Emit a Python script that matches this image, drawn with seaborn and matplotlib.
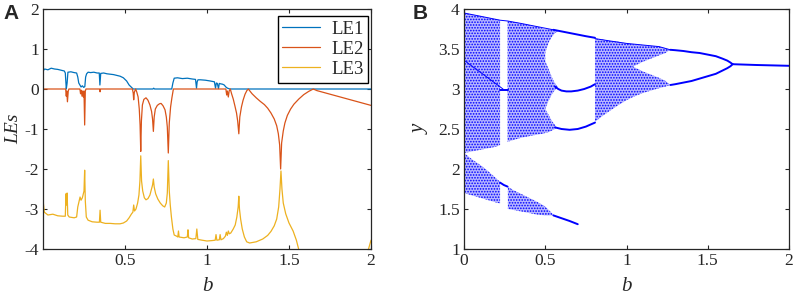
import numpy as np
import matplotlib
matplotlib.use("Agg")
import matplotlib.pyplot as plt
import seaborn as sns

# Lyapunov exponents, pairs of (b, value)
le1 = np.array([
    (0.0, 0.45), (0.01, 0.50), (0.03, 0.48), (0.05, 0.52), (0.07, 0.50), (0.09, 0.49),
    (0.11, 0.47), (0.13, 0.45), (0.136, 0.40), (0.142, 0.0), (0.147, 0.15), (0.152, 0.42),
    (0.17, 0.43), (0.19, 0.41), (0.205, 0.40), (0.212, 0.30), (0.218, 0.15), (0.225, 0.10),
    (0.232, 0.05), (0.24, 0.08), (0.248, 0.04), (0.255, 0.06), (0.26, 0.30), (0.266, 0.38),
    (0.275, 0.42), (0.29, 0.41), (0.31, 0.42), (0.33, 0.40), (0.343, 0.40), (0.347, 0.10),
    (0.352, 0.39), (0.37, 0.40), (0.39, 0.38), (0.41, 0.37), (0.43, 0.36), (0.45, 0.34),
    (0.47, 0.32), (0.49, 0.28), (0.51, 0.20), (0.525, 0.10), (0.54, 0.04), (0.55, 0.0),
    (0.6, 0.0), (0.67, 0.0), (0.675, 0.02), (0.68, 0.0), (0.75, 0.0), (0.785, 0.0),
    (0.792, 0.15), (0.8, 0.27), (0.82, 0.28), (0.85, 0.26), (0.88, 0.27), (0.91, 0.25),
    (0.93, 0.24), (0.936, 0.02), (0.94, 0.18), (0.945, 0.23), (0.96, 0.23), (0.99, 0.22),
    (1.02, 0.20), (1.045, 0.18), (1.052, 0.02), (1.057, 0.15), (1.063, 0.14), (1.07, 0.01),
    (1.075, 0.14), (1.082, 0.13), (1.095, 0.12), (1.105, 0.10), (1.115, 0.05), (1.125, 0.02),
    (1.14, 0.0), (1.5, 0.0), (2.0, 0.0)])

le2 = np.array([
    (0.0, 0.0), (0.138, 0.0), (0.142, -0.18), (0.145, -0.05), (0.149, -0.32), (0.154, -0.05),
    (0.158, 0.0), (0.225, 0.0), (0.229, -0.12), (0.233, -0.03), (0.238, -0.18), (0.242, -0.05),
    (0.246, -0.2), (0.25, -0.05), (0.254, -0.9), (0.258, -0.05), (0.262, 0.0), (0.345, 0.0),
    (0.348, -0.07), (0.351, 0.0), (0.545, 0.0), (0.55, -0.1), (0.553, -0.27), (0.557, -0.08),
    (0.565, 0.0), (0.572, -0.08), (0.58, -0.2), (0.587, -0.5), (0.592, -0.9), (0.596, -1.56),
    (0.6, -0.8), (0.606, -0.4), (0.615, -0.26), (0.628, -0.22), (0.64, -0.28), (0.652, -0.4),
    (0.662, -0.56), (0.668, -0.75), (0.673, -1.06), (0.678, -0.7), (0.685, -0.5), (0.697, -0.41),
    (0.71, -0.37), (0.72, -0.36), (0.732, -0.42), (0.744, -0.52), (0.752, -0.7), (0.758, -0.95),
    (0.764, -1.6), (0.77, -0.85), (0.778, -0.45), (0.786, -0.22), (0.795, 0.0), (1.115, 0.0),
    (1.12, -0.15), (1.124, -0.05), (1.13, -0.2), (1.135, -0.05), (1.142, 0.0), (1.15, -0.12),
    (1.16, -0.25), (1.17, -0.42), (1.18, -0.6), (1.187, -0.8), (1.194, -1.12), (1.2, -0.7),
    (1.21, -0.45), (1.22, -0.28), (1.232, -0.13), (1.243, -0.04), (1.252, 0.0), (1.275, -0.12),
    (1.3, -0.22), (1.325, -0.31), (1.35, -0.39), (1.37, -0.48), (1.39, -0.6), (1.41, -0.75),
    (1.425, -0.92), (1.435, -1.12), (1.443, -1.4), (1.449, -2.0), (1.455, -1.35), (1.465, -1.05),
    (1.475, -0.85), (1.49, -0.66), (1.51, -0.5), (1.53, -0.38), (1.56, -0.25), (1.59, -0.14),
    (1.62, -0.06), (1.648, 0.0), (1.67, -0.04), (2.0, -0.41)])

le3 = np.array([
    (0.0, -2.77), (0.008, -3.08), (0.03, -3.15), (0.06, -3.13), (0.09, -3.17), (0.12, -3.18),
    (0.136, -3.18), (0.14, -2.62), (0.143, -2.9), (0.147, -2.6), (0.151, -3.15), (0.16, -3.2),
    (0.19, -3.22), (0.205, -3.2), (0.212, -2.95), (0.22, -2.8), (0.226, -2.7), (0.232, -2.78),
    (0.24, -2.72), (0.246, -2.62), (0.25, -2.55), (0.254, -2.03), (0.258, -2.8), (0.264, -3.2),
    (0.275, -3.28), (0.3, -3.32), (0.33, -3.33), (0.344, -3.33), (0.348, -3.03), (0.352, -3.33),
    (0.38, -3.36), (0.41, -3.36), (0.44, -3.37), (0.47, -3.37), (0.49, -3.35), (0.51, -3.3),
    (0.525, -3.22), (0.54, -3.12), (0.548, -3.08), (0.553, -2.9), (0.558, -3.05), (0.567, -3.0),
    (0.577, -2.85), (0.585, -2.65), (0.591, -2.3), (0.596, -1.67), (0.601, -2.3), (0.608, -2.55),
    (0.618, -2.72), (0.628, -2.77), (0.64, -2.74), (0.652, -2.65), (0.662, -2.5), (0.668, -2.4),
    (0.673, -2.25), (0.678, -2.45), (0.687, -2.62), (0.7, -2.75), (0.715, -2.85), (0.73, -2.92),
    (0.742, -2.95), (0.752, -2.85), (0.758, -2.6), (0.764, -1.79), (0.77, -2.55), (0.776, -2.9),
    (0.783, -3.2), (0.792, -3.5), (0.8, -3.65), (0.815, -3.68), (0.822, -3.7), (0.826, -3.55),
    (0.83, -3.7), (0.86, -3.72), (0.88, -3.7), (0.884, -3.52), (0.888, -3.72), (0.91, -3.75),
    (0.932, -3.74), (0.938, -3.5), (0.944, -3.76), (0.97, -3.78), (1.0, -3.8), (1.03, -3.79),
    (1.05, -3.78), (1.055, -3.64), (1.06, -3.78), (1.075, -3.77), (1.08, -3.64), (1.085, -3.77),
    (1.1, -3.74), (1.112, -3.68), (1.118, -3.58), (1.124, -3.66), (1.13, -3.55), (1.136, -3.62),
    (1.145, -3.6), (1.16, -3.5), (1.172, -3.4), (1.182, -3.2), (1.19, -2.95), (1.194, -2.68),
    (1.198, -3.0), (1.205, -3.25), (1.215, -3.5), (1.228, -3.7), (1.242, -3.82), (1.26, -3.85),
    (1.3, -3.82), (1.34, -3.75), (1.37, -3.66), (1.39, -3.56), (1.41, -3.42), (1.425, -3.25),
    (1.437, -2.95), (1.445, -2.5), (1.451, -2.05), (1.457, -2.5), (1.465, -2.85), (1.48, -3.12),
    (1.5, -3.35), (1.525, -3.55), (1.545, -3.78), (1.56, -4.02), (1.58, -4.4), (1.97, -4.4),
    (1.985, -4.0), (2.0, -3.78)])

# Bifurcation diagram (panel B): chaotic bands as (b, lower, upper)
bands = {
    "r1_up":  ([0, 0.05, 0.1, 0.15, 0.2, 0.222], [2.2, 2.22, 2.24, 2.26, 2.28, 2.3], [3.95, 3.93, 3.91, 3.89, 3.87, 3.86]),
    "r1_low": ([0, 0.05, 0.1, 0.15, 0.2, 0.222], [1.70, 1.67, 1.64, 1.61, 1.58, 1.57], [2.2, 2.12, 2.05, 1.97, 1.88, 1.84]),
    "r2_up":  ([0.268, 0.3, 0.35, 0.4, 0.45, 0.48, 0.5], [2.34, 2.36, 2.39, 2.41, 2.43, 2.44, 2.45], [3.85, 3.84, 3.82, 3.8, 3.78, 3.76, 3.75]),
    "r2_top": ([0.5, 0.52, 0.54, 0.56, 0.58], [3.45, 3.58, 3.65, 3.7, 3.72], [3.75, 3.75, 3.74, 3.73, 3.72]),
    "r2_mid": ([0.5, 0.52, 0.54, 0.56, 0.575], [2.75, 2.85, 2.93, 2.99, 3.02], [3.35, 3.25, 3.15, 3.07, 3.03]),
    "r2_bot": ([0.5, 0.52, 0.54, 0.56, 0.57], [2.45, 2.46, 2.48, 2.5, 2.52], [2.75, 2.68, 2.6, 2.55, 2.52]),
    "r2_low": ([0.27, 0.3, 0.35, 0.4, 0.45, 0.5, 0.53, 0.55], [1.5, 1.49, 1.47, 1.45, 1.43, 1.42, 1.42, 1.42], [1.78, 1.74, 1.69, 1.64, 1.59, 1.53, 1.47, 1.43]),
    "r3":     ([0.806, 0.85, 0.9, 0.95, 1.0, 1.04], [2.59, 2.66, 2.73, 2.8, 2.86, 2.9], [3.63, 3.62, 3.6, 3.59, 3.57, 3.56]),
    "r3_up":  ([1.04, 1.1, 1.15, 1.2, 1.24, 1.27], [3.28, 3.34, 3.38, 3.42, 3.45, 3.49], [3.56, 3.55, 3.54, 3.53, 3.51, 3.49]),
    "r3_low": ([1.04, 1.1, 1.15, 1.2, 1.24, 1.27], [2.9, 2.95, 2.98, 3.01, 3.03, 3.05], [3.28, 3.22, 3.18, 3.14, 3.1, 3.05]),
}

# dense edges inside the chaotic regions, as (b, y)
edges = [
    ([0, 0.1, 0.222, 0.268, 0.35, 0.45, 0.55], [3.95, 3.91, 3.86, 3.85, 3.82, 3.78, 3.74]),
    ([0.0, 0.08, 0.16, 0.24], [3.36, 3.24, 3.12, 3.0]),
    ([0.806, 0.9, 1.0, 1.1, 1.2, 1.27], [3.63, 3.6, 3.57, 3.55, 3.53, 3.49]),
]

# periodic branches as (b, y)
branches = [
    ([0.222, 0.245, 0.268], [2.99, 2.99, 2.99]),
    ([0.222, 0.245, 0.268], [1.83, 1.80, 1.78]),
    ([0.55, 0.6, 0.65, 0.7, 0.75, 0.806], [3.74, 3.72, 3.70, 3.68, 3.66, 3.64]),
    ([0.56, 0.58, 0.6, 0.63, 0.66, 0.7, 0.74, 0.78, 0.806], [3.03, 3.0, 2.98, 2.97, 2.97, 2.98, 3.0, 3.03, 3.06]),
    ([0.56, 0.6, 0.65, 0.7, 0.75, 0.806], [2.52, 2.5, 2.49, 2.5, 2.53, 2.58]),
    ([0.55, 0.6, 0.65, 0.7], [1.42, 1.385, 1.35, 1.31]),
    ([1.27, 1.3, 1.35, 1.4, 1.45, 1.5, 1.55, 1.59, 1.62, 1.64, 1.653], [3.49, 3.485, 3.475, 3.46, 3.45, 3.43, 3.41, 3.38, 3.355, 3.33, 3.31]),
    ([1.27, 1.3, 1.35, 1.4, 1.45, 1.5, 1.55, 1.59, 1.62, 1.64, 1.653], [3.05, 3.06, 3.08, 3.10, 3.13, 3.16, 3.19, 3.23, 3.26, 3.285, 3.31]),
    ([1.653, 1.8, 2.0], [3.31, 3.30, 3.29]),
]

sns.set_style("ticks")
plt.rcParams["font.family"] = ["Liberation Serif", "DejaVu Serif"]
plt.rcParams["axes.unicode_minus"] = False
plt.rcParams["hatch.linewidth"] = 0.8
plt.rcParams["axes.linewidth"] = 0.9
plt.rcParams["axes.edgecolor"] = "#262626"

fig = plt.figure(figsize=(7.96, 3.02), dpi=100)
ax1 = fig.add_axes([43 / 796, 1 - 249 / 302, 328 / 796, 240 / 302])
ax2 = fig.add_axes([464 / 796, 1 - 249 / 302, 325 / 796, 240 / 302])

colors = ["#0072BD", "#D95319", "#EDB120"]
for data, name, c in zip([le1, le2, le3], ["LE1", "LE2", "LE3"], colors):
    sns.lineplot(x=data[:, 0], y=data[:, 1], ax=ax1, color=c, lw=0.9,
                 label=name, sort=False, estimator=None)

ax1.set_xlim(0, 2)
ax1.set_ylim(-4, 2)
ax1.set_xticks([0.5, 1, 1.5, 2])
ax1.set_xticklabels(["0.5", "1", "1.5", "2"])
ax1.set_yticks([-4, -3, -2, -1, 0, 1, 2])
ax1.set_xlabel("b", style="italic", fontsize=15)
ax1.set_ylabel("LEs", style="italic", fontsize=14)
ax1.xaxis.set_label_coords(0.5, -0.115)
ax1.yaxis.set_label_coords(-0.062, 0.5)
leg = ax1.legend(loc="upper right", fontsize=13.5, frameon=True, fancybox=False,
                 handlelength=2.0, handletextpad=0.6, borderpad=0.25,
                 labelspacing=0.15, borderaxespad=0,
                 bbox_to_anchor=(0.991, 0.97))
leg.get_frame().set_edgecolor("black")
leg.get_frame().set_linewidth(1.0)
leg.get_frame().set_alpha(1)

for key, (bx, lo, hi) in bands.items():
    ax2.fill_between(bx, lo, hi, facecolor="#b8b8ff", edgecolor="blue",
                     hatch="......", linewidth=0)
for bx, yv in edges:
    sns.lineplot(x=bx, y=yv, ax=ax2, color="blue", lw=0.7, sort=False, estimator=None)
for bx, yv in branches:
    sns.lineplot(x=bx, y=yv, ax=ax2, color="blue", lw=1.4, sort=False, estimator=None)

ax2.set_xlim(0, 2)
ax2.set_ylim(1, 4)
ax2.set_xticks([0, 0.5, 1, 1.5, 2])
ax2.set_xticklabels(["0", "0.5", "1", "1.5", "2"])
ax2.set_yticks([1, 1.5, 2, 2.5, 3, 3.5, 4])
ax2.set_yticklabels(["1", "1.5", "2", "2.5", "3", "3.5", "4"])
ax2.set_xlabel("b", style="italic", fontsize=15)
ax2.set_ylabel("y", style="italic", fontsize=15)
ax2.xaxis.set_label_coords(0.5, -0.115)
ax2.yaxis.set_label_coords(-0.105, 0.5)

for ax in (ax1, ax2):
    ax.tick_params(direction="in", top=True, right=True, length=3, width=0.8,
                   labelsize=12.5, pad=3, colors="#262626")
    for sp in ax.spines.values():
        sp.set_visible(True)

fig.text(3 / 796, 1 - 4 / 302, "A", fontsize=15, fontweight="bold",
         family="Liberation Sans", va="top", ha="left")
fig.text(413 / 796, 1 - 4 / 302, "B", fontsize=15, fontweight="bold",
         family="Liberation Sans", va="top", ha="left")

fig.savefig("out.png", dpi=100)
